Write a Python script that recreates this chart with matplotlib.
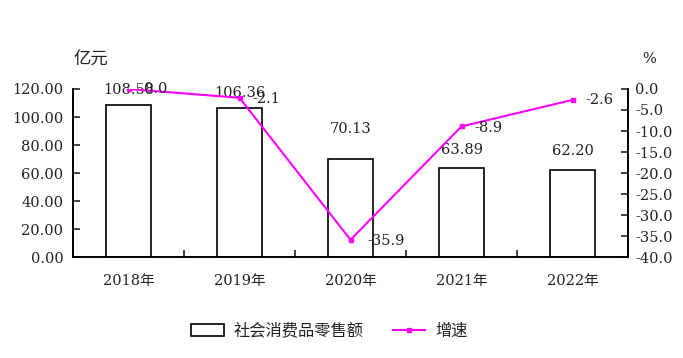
import matplotlib.pyplot as plt
import numpy as np

plt.rcParams['font.family'] = ['DejaVu Serif', 'Noto Sans CJK SC']
plt.rcParams['text.color'] = '#222222'
plt.rcParams['xtick.color'] = '#222222'
plt.rcParams['ytick.color'] = '#222222'

# 数据
years = ['2018年', '2019年', '2020年', '2021年', '2022年']
sales = [108.58, 106.36, 70.13, 63.89, 62.20]
growth = [0.0, -2.1, -35.9, -8.9, -2.6]
sales_labels = ['108.58', '106.36', '70.13', '63.89', '62.20']
growth_labels = ['0.0', '-2.1', '-35.9', '-8.9', '-2.6']

fig = plt.figure(figsize=(6.83, 3.58), dpi=100)
ax1 = fig.add_axes([0.1069, 0.2821, 0.8126, 0.4693])
ax2 = ax1.twinx()

x = np.arange(len(years))
ax1.bar(x, sales, width=0.4, color='white', edgecolor='black', linewidth=1.2,
        label='社会消费品零售额', zorder=2)
ax1.set_xlim(-0.5, len(years) - 0.5)
ax1.set_ylim(0, 120)
ax1.set_yticks(np.arange(0, 121, 20))
ax1.set_yticklabels(['%.2f' % v for v in np.arange(0, 121, 20)])

# 柱状标签 (每个标签的上移量, 单位 points)
bar_offsets = [6, 6, 16.5, 7.5, 8.5]
for xi, v, lab, off in zip(x, sales, sales_labels, bar_offsets):
    ax1.annotate(lab, (xi, v), xytext=(0, off), textcoords='offset points',
                 ha='center', va='bottom', fontsize=10.5)

ax2.plot(x, growth, color='#ff00ff', linewidth=1.5, marker='s', markersize=3,
         label='增速', zorder=3)
ax2.set_ylim(-40, 0)
ax2.set_yticks(np.arange(-40, 1, 5))
ax2.set_yticklabels(['%.1f' % v for v in np.arange(-40, 1, 5)])

growth_offsets = [(11, 0), (9, -1), (12, -1), (9, -1), (9, 0)]
for xi, v, lab, off in zip(x, growth, growth_labels, growth_offsets):
    ax2.annotate(lab, (xi, v), xytext=off, textcoords='offset points',
                 ha='left', va='center', fontsize=10.5)

# 坐标轴样式
for ax in (ax1, ax2):
    ax.spines['top'].set_visible(False)
    for s in ('left', 'right', 'bottom'):
        ax.spines[s].set_linewidth(1.2)
ax1.tick_params(axis='y', direction='in', length=5, width=1.2, pad=7, labelsize=10.5)
ax2.tick_params(axis='y', direction='in', length=5, width=1.2, pad=5, labelsize=10.5)

ax1.set_xticks(x)
ax1.set_xticklabels(years)
ax1.set_xticks(np.arange(0.5, len(years) - 1, 1), minor=True)
ax1.tick_params(axis='x', which='major', length=0, pad=12, labelsize=10.5)
ax1.tick_params(axis='x', which='minor', direction='in', length=5, width=1.2)

fig.text(0.108, 0.818, '亿元', fontsize=12.5, family=['Noto Sans CJK SC'])
fig.text(0.940, 0.823, '%', fontsize=10.5)

h1, l1 = ax1.get_legend_handles_labels()
h2, l2 = ax2.get_legend_handles_labels()
fig.legend(h1 + h2, l1 + l2, loc='center', bbox_to_anchor=(0.482, 0.075), ncol=2,
           frameon=False, prop={'family': ['Noto Sans CJK SC'], 'size': 11.7},
           handlelength=2.0, handleheight=0.7, columnspacing=1.8, handletextpad=0.6)

fig.savefig('out.png', dpi=100)
